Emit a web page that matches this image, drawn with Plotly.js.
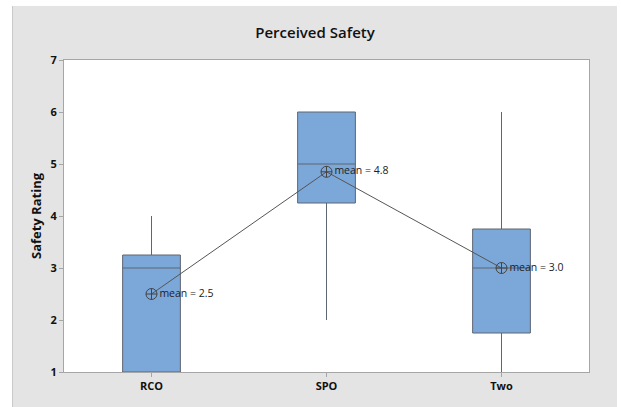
<!DOCTYPE html>
<html>
<head>
<meta charset="utf-8">
<script src="https://cdn.plot.ly/plotly-3.0.1.min.js"></script>
<style>
html,body{margin:0;padding:0;background:#ffffff;}
#wrap{position:absolute;left:12px;top:6px;width:605px;height:401px;border-left:1px solid #c9c9c9;box-sizing:border-box;}
#chart{width:604px;height:401px;}
</style>
</head>
<body>
<div id="wrap"><div id="chart"></div></div>
<script>
var categories = ["RCO", "SPO", "Two"];
var lowerWhisker = [1, 2, 1];
var q1Values = [1, 4.25, 1.75];
var medianValues = [3, 5, 3];
var q3Values = [3.25, 6, 3.75];
var upperWhisker = [4, 6, 6];
var meanValues = [2.5, 4.85, 3.0];
var meanLabels = ["mean = 2.5", "mean = 4.8", "mean = 3.0"];

var boxTrace = {
  type: "box",
  x: categories,
  q1: q1Values,
  median: medianValues,
  q3: q3Values,
  lowerfence: lowerWhisker,
  upperfence: upperWhisker,
  width: 0.33,
  whiskerwidth: 0,
  fillcolor: "rgb(123,167,217)",
  line: {color: "#5e6670", width: 1},
  boxpoints: false,
  hoverinfo: "skip",
  showlegend: false
};

var meanTrace = {
  type: "scatter",
  mode: "lines+markers+text",
  x: categories,
  y: meanValues,
  text: meanLabels,
  textposition: "middle right",
  textfont: {family: "Open Sans, sans-serif", size: 10.5, color: "#222"},
  line: {color: "#555555", width: 1},
  marker: {symbol: "circle-cross-open", size: 11, color: "#444444", line: {width: 1}},
  hoverinfo: "skip",
  showlegend: false,
  cliponaxis: false
};

var layout = {
  width: 604,
  height: 401,
  paper_bgcolor: "#e4e4e4",
  plot_bgcolor: "#ffffff",
  margin: {l: 51, r: 28, t: 54, b: 35},
  font: {family: "Open Sans, sans-serif", color: "#111"},
  title: {
    text: "Perceived Safety",
    x: 0.5, xref: "container",
    y: 1 - 27/401, yref: "container", yanchor: "middle",
    font: {size: 15, weight: 600, color: "#111"}
  },
  xaxis: {
    type: "category",
    range: [-0.5, 2.5],
    showgrid: false,
    zeroline: false,
    showline: true,
    mirror: true,
    linecolor: "#a6a6a6",
    linewidth: 1,
    ticks: "outside",
    ticklen: 4,
    tickcolor: "#a6a6a6",
    tickfont: {size: 11, weight: "bold", color: "#111"}
  },
  yaxis: {
    range: [1, 7],
    tickvals: [1, 2, 3, 4, 5, 6, 7],
    showgrid: false,
    zeroline: false,
    showline: true,
    mirror: true,
    linecolor: "#a6a6a6",
    linewidth: 1,
    ticks: "outside",
    ticklen: 4,
    tickcolor: "#a6a6a6",
    tickfont: {size: 11, weight: "bold", color: "#111"},
    title: {text: "Safety Rating", font: {size: 13, weight: "bold", color: "#111"}, standoff: 5}
  }
};

Plotly.newPlot("chart", [boxTrace, meanTrace], layout, {staticPlot: true, displayModeBar: false});
</script>
</body>
</html>
